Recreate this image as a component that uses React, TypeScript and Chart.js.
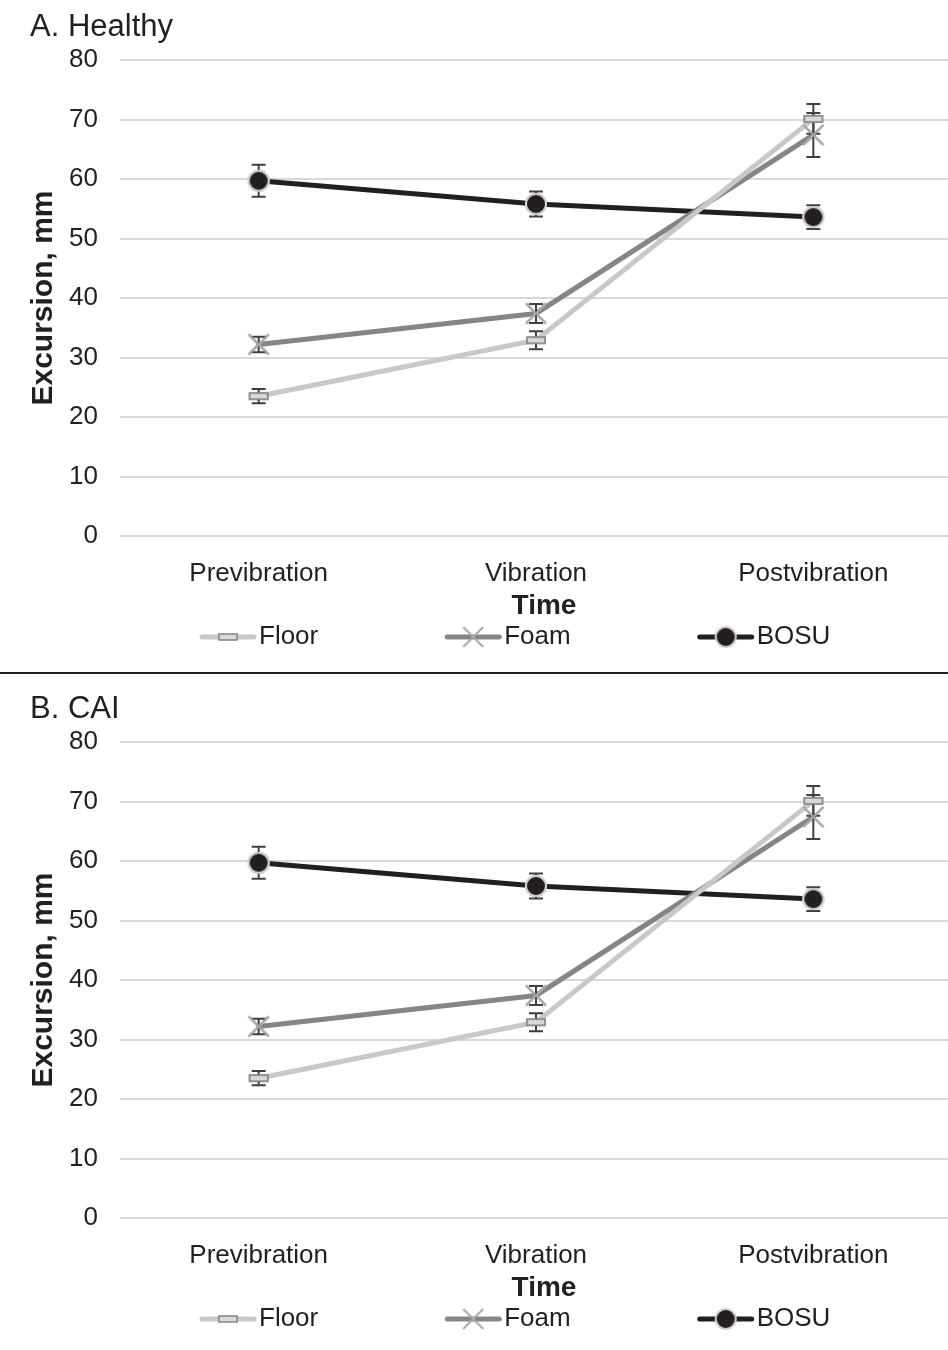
import React, { useEffect, useRef } from 'react';
import { Chart, registerables } from 'chart.js';
Chart.register(...registerables);

const categories = ['Previbration', 'Vibration', 'Postvibration'];
const yMin = 0;
const yMax = 80;
const yStep = 10;

const healthyFloor = [23.5, 32.9, 70.1];
const healthyFloorErr = [1.2, 1.5, 2.5];
const healthyFoam = [32.2, 37.4, 67.4];
const healthyFoamErr = [1.3, 1.6, 3.7];
const healthyBosu = [59.7, 55.8, 53.6];
const healthyBosuErr = [2.7, 2.1, 2.0];

const caiFloor = [23.5, 32.9, 70.1];
const caiFloorErr = [1.2, 1.5, 2.5];
const caiFoam = [32.2, 37.4, 67.4];
const caiFoamErr = [1.3, 1.6, 3.7];
const caiBosu = [59.7, 55.8, 53.6];
const caiBosuErr = [2.7, 2.1, 2.0];

const seriesNames = ['Floor', 'Foam', 'BOSU'];
const FONT = "'Liberation Sans', Arial, sans-serif";
const TEXT = '#231f20';

function makeMarker(kind: string): HTMLCanvasElement {
  const c = document.createElement('canvas');
  if (kind === 'Floor') {
    c.width = 22; c.height = 10;
    const g = c.getContext('2d')!;
    g.fillStyle = '#d9d9d9';
    g.strokeStyle = '#8a8a8a';
    g.lineWidth = 1.6;
    g.fillRect(2, 2, 18, 6);
    g.strokeRect(2, 2, 18, 6);
  } else if (kind === 'Foam') {
    c.width = 24; c.height = 24;
    const g = c.getContext('2d')!;
    g.strokeStyle = '#a8a8a8';
    g.lineWidth = 2;
    g.beginPath();
    g.moveTo(2, 2); g.lineTo(22, 22);
    g.moveTo(22, 2); g.lineTo(2, 22);
    g.stroke();
  } else {
    c.width = 24; c.height = 24;
    const g = c.getContext('2d')!;
    g.fillStyle = '#231f20';
    g.strokeStyle = '#cfcfcf';
    g.lineWidth = 2;
    g.beginPath();
    g.arc(12, 12, 10, 0, Math.PI * 2);
    g.fill();
    g.stroke();
  }
  return c;
}

const lineColors: Record<string, string> = { Floor: '#c8c8c8', Foam: '#858585', BOSU: '#231f20' };

type PanelProps = {
  title: string;
  top: number;
  floor: number[]; floorErr: number[];
  foam: number[]; foamErr: number[];
  bosu: number[]; bosuErr: number[];
};

function Panel(p: PanelProps) {
  const ref = useRef<HTMLCanvasElement | null>(null);
  useEffect(() => {
    const canvas = ref.current!;
    const markers: Record<string, HTMLCanvasElement> = {
      Floor: makeMarker('Floor'), Foam: makeMarker('Foam'), BOSU: makeMarker('BOSU'),
    };
    const values = [p.floor, p.foam, p.bosu];
    const errors = [p.floorErr, p.foamErr, p.bosuErr];

    const overlay = {
      id: 'overlay',
      afterDatasetsDraw(chart: any) {
        const ctx = chart.ctx;
        const y = chart.scales.y;
        ctx.save();
        ctx.strokeStyle = '#404040';
        ctx.lineWidth = 2;
        chart.data.datasets.forEach((ds: any, di: number) => {
          const meta = chart.getDatasetMeta(di);
          meta.data.forEach((pt: any, i: number) => {
            const v = ds.data[i];
            const e = errors[di][i];
            const y1 = y.getPixelForValue(v + e);
            const y2 = y.getPixelForValue(v - e);
            const x = pt.x;
            ctx.beginPath();
            ctx.moveTo(x, y1); ctx.lineTo(x, y2);
            ctx.moveTo(x - 7, y1); ctx.lineTo(x + 7, y1);
            ctx.moveTo(x - 7, y2); ctx.lineTo(x + 7, y2);
            ctx.stroke();
          });
        });
        ctx.restore();
        chart.data.datasets.forEach((_ds: any, di: number) => {
          const meta = chart.getDatasetMeta(di);
          meta.data.forEach((pt: any) => pt.draw(ctx, chart.chartArea));
        });
      },
      afterDraw(chart: any) {
        const ctx = chart.ctx;
        const area = chart.chartArea;
        ctx.save();
        ctx.fillStyle = TEXT;
        ctx.textBaseline = 'middle';
        ctx.font = `31px ${FONT}`;
        ctx.textAlign = 'left';
        ctx.fillText(p.title, 30, 27);
        ctx.font = `bold 28px ${FONT}`;
        ctx.textAlign = 'center';
        ctx.fillText('Time', 544, area.bottom + 70);
        ctx.font = `26px ${FONT}`;
        ctx.textAlign = 'left';
        const ly = area.bottom + 101;
        let lx = 200;
        const lineLen = 56;
        const gap = 3;
        const itemGap = 127;
        seriesNames.forEach((name) => {
          ctx.strokeStyle = lineColors[name];
          ctx.lineWidth = 5;
          ctx.lineCap = 'round';
          ctx.beginPath();
          ctx.moveTo(lx + 2, ly);
          ctx.lineTo(lx + lineLen - 2, ly);
          ctx.stroke();
          const m = markers[name];
          ctx.drawImage(m, lx + lineLen / 2 - m.width / 2, ly - m.height / 2);
          const tw = ctx.measureText(name).width;
          ctx.fillText(name, lx + lineLen + gap, ly);
          lx += lineLen + gap + tw + itemGap;
        });
        ctx.restore();
      },
    };

    const chart = new Chart(canvas, {
      type: 'line',
      data: {
        labels: categories,
        datasets: seriesNames.map((name, i) => ({
          label: name,
          data: values[i],
          borderColor: lineColors[name],
          backgroundColor: lineColors[name],
          borderWidth: 5,
          borderCapStyle: 'round',
          tension: 0,
          pointStyle: markers[name] as any,
          pointRadius: 10,
          pointHoverRadius: 10,
          fill: false,
        })),
      },
      options: {
        responsive: false,
        animation: false,
        devicePixelRatio: 1,
        layout: { padding: { top: 60, bottom: 72, left: 0, right: 0 } },
        plugins: { legend: { display: false }, tooltip: { enabled: false }, title: { display: false } },
        scales: {
          x: {
            type: 'category',
            offset: true,
            grid: { display: false, drawTicks: false },
            border: { display: false },
            ticks: { color: TEXT, font: { family: FONT, size: 26 }, padding: 22, maxRotation: 0 },
            afterFit: (s: any) => { s.height = 60; },
          },
          y: {
            min: yMin,
            max: yMax,
            ticks: { stepSize: yStep, color: TEXT, font: { family: FONT, size: 26 }, padding: 22 },
            grid: { color: '#d9d9d9', lineWidth: 2, drawTicks: false },
            border: { display: false },
            title: {
              display: true,
              text: 'Excursion, mm',
              color: TEXT,
              font: { family: FONT, size: 30, weight: 'bold' },
              padding: { top: 26, bottom: 0 },
            },
            afterFit: (s: any) => { s.width = 120; },
          },
        },
      } as any,
      plugins: [overlay],
    });
    return () => chart.destroy();
  }, []);
  return (
    <canvas
      ref={ref}
      width={967}
      height={668}
      style={{ position: 'absolute', left: 0, top: p.top, width: 967, height: 668 }}
    />
  );
}

export default function App() {
  return (
    <div style={{ position: 'absolute', left: 0, top: 0, width: 948, height: 1350, overflow: 'hidden', background: '#fff' }}>
      <Panel title="A. Healthy" top={0}
        floor={healthyFloor} floorErr={healthyFloorErr}
        foam={healthyFoam} foamErr={healthyFoamErr}
        bosu={healthyBosu} bosuErr={healthyBosuErr} />
      <div style={{ position: 'absolute', left: 0, top: 672, width: 948, height: 2, background: '#231f20' }} />
      <Panel title="B. CAI" top={682}
        floor={caiFloor} floorErr={caiFloorErr}
        foam={caiFoam} foamErr={caiFoamErr}
        bosu={caiBosu} bosuErr={caiBosuErr} />
    </div>
  );
}
